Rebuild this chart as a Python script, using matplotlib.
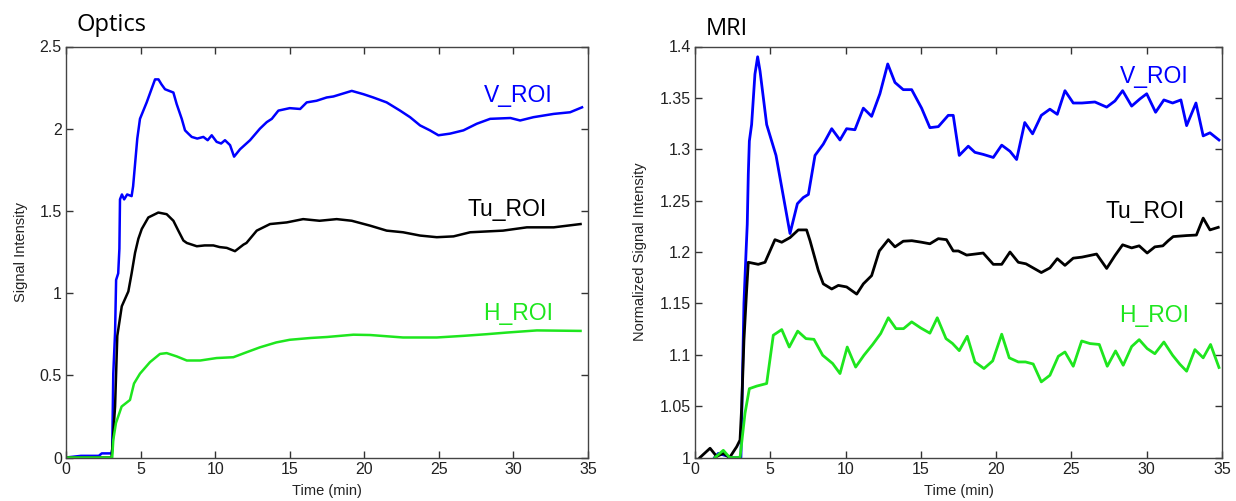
import numpy as np
import matplotlib
matplotlib.use('Agg')
import matplotlib.pyplot as plt

# ---- Optics (left panel) ----
opt_v_t = [0.0, 1.0, 2.2, 2.4, 3.05, 3.1, 3.17, 3.29, 3.36, 3.5, 3.58, 3.62, 3.75, 3.9, 4.1, 4.4,
           4.5, 4.78, 4.96, 5.41, 5.97, 6.2, 6.4, 6.64, 7.2, 7.42, 7.76, 7.98, 8.2, 8.43, 8.8,
           9.21, 9.5, 9.77, 10.1, 10.4, 10.66, 11.0, 11.27, 11.67, 12.34, 13.0, 13.46, 13.8,
           14.24, 15.0, 15.7, 16.14, 16.8, 17.48, 17.93, 19.16, 19.94, 20.6, 21.5, 22.4, 23.07,
           23.74, 24.4, 24.97, 25.75, 26.65, 27.54, 28.44, 29.8, 30.45, 31.34, 32.7, 33.8, 34.6]
opt_v = [0.0, 0.01, 0.01, 0.025, 0.025, 0.05, 0.51, 0.76, 1.08, 1.12, 1.27, 1.57, 1.60, 1.57,
         1.60, 1.59, 1.65, 1.94, 2.06, 2.16, 2.30, 2.30, 2.27, 2.24, 2.22, 2.15, 2.06, 1.99, 1.97,
         1.95, 1.94, 1.95, 1.93, 1.96, 1.92, 1.91, 1.93, 1.90, 1.83, 1.875, 1.93, 2.0, 2.04, 2.06,
         2.11, 2.125, 2.12, 2.16, 2.17, 2.19, 2.196, 2.23, 2.21, 2.19, 2.16, 2.11, 2.07, 2.02,
         1.99, 1.96, 1.97, 1.99, 2.03, 2.06, 2.065, 2.05, 2.07, 2.09, 2.10, 2.13]

opt_tu_t = [0.0, 3.05, 3.1, 3.29, 3.44, 3.74, 4.18, 4.4, 4.63, 4.85, 5.08, 5.52, 6.19, 6.75,
            7.2, 7.53, 7.87, 8.1, 8.77, 9.3, 9.88, 10.3, 10.78, 11.33, 11.9, 12.1, 12.79, 13.68,
            14.8, 15.9, 17.0, 18.15, 19.16, 20.4, 21.5, 22.6, 23.74, 24.86, 25.98, 27.1, 28.2,
            29.3, 30.9, 32.7, 34.5]
opt_tu = [0.0, 0.0, 0.05, 0.31, 0.74, 0.92, 1.01, 1.12, 1.245, 1.33, 1.39, 1.46, 1.49, 1.48,
          1.44, 1.38, 1.32, 1.305, 1.285, 1.29, 1.29, 1.28, 1.275, 1.255, 1.295, 1.305, 1.38,
          1.42, 1.43, 1.45, 1.44, 1.45, 1.44, 1.41, 1.38, 1.37, 1.35, 1.34, 1.345, 1.37, 1.375,
          1.38, 1.40, 1.40, 1.42]

opt_h_t = [0.0, 3.1, 3.17, 3.35, 3.73, 4.29, 4.56, 4.96, 5.63, 6.3, 6.75, 7.42, 8.1, 9.0, 10.1,
           11.22, 12.1, 13.0, 14.1, 15.0, 16.4, 17.5, 19.27, 20.4, 22.6, 24.86, 26.65, 28.2,
           29.56, 31.57, 34.5]
opt_h = [0.0, 0.0, 0.107, 0.21, 0.31, 0.35, 0.45, 0.51, 0.58, 0.63, 0.635, 0.615, 0.59, 0.59,
         0.605, 0.61, 0.64, 0.67, 0.70, 0.716, 0.727, 0.733, 0.747, 0.745, 0.73, 0.73, 0.74, 0.75,
         0.76, 0.773, 0.77]

# ---- MRI (right panel) ----
mri_v_t = [1.3, 1.55, 2.0, 2.5, 3.05, 3.25, 3.39, 3.47, 3.54, 3.61, 3.76, 3.98, 4.16, 4.32, 4.76,
           5.38, 6.31, 6.8, 7.19, 7.53, 7.97, 8.52, 9.08, 9.63, 10.07, 10.62, 11.18, 11.73, 12.28,
           12.8, 13.28, 13.83, 14.39, 15.05, 15.6, 16.16, 16.82, 17.15, 17.55, 18.15, 18.59,
           19.14, 19.81, 20.37, 20.92, 21.36, 21.9, 22.42, 23.0, 23.57, 24.06, 24.57, 25.12,
           25.7, 26.56, 27.34, 27.89, 28.4, 29.0, 29.55, 30.0, 30.59, 31.14, 31.72, 32.27, 32.65,
           33.27, 33.75, 34.2, 34.8]
mri_v = [1.0, 1.004, 1.002, 1.0, 1.0, 1.15, 1.2, 1.227, 1.276, 1.308, 1.324, 1.373, 1.39, 1.376,
         1.324, 1.294, 1.218, 1.247, 1.253, 1.256, 1.294, 1.305, 1.32, 1.309, 1.32, 1.319, 1.34,
         1.332, 1.354, 1.383, 1.365, 1.358, 1.358, 1.34, 1.321, 1.322, 1.333, 1.333, 1.294, 1.303,
         1.297, 1.295, 1.292, 1.304, 1.298, 1.29, 1.326, 1.315, 1.333, 1.339, 1.334, 1.357, 1.345,
         1.345, 1.346, 1.341, 1.347, 1.357, 1.342, 1.349, 1.354, 1.336, 1.348, 1.345, 1.348, 1.323,
         1.345, 1.313, 1.316, 1.309]

mri_tu_t = [0.33, 1.0, 1.44, 1.88, 2.3, 2.77, 2.99, 3.1, 3.25, 3.43, 3.54, 3.87, 4.2, 4.65, 4.98,
            5.31, 5.76, 6.31, 6.86, 7.41, 7.64, 8.19, 8.52, 9.08, 9.52, 10.07, 10.74, 11.18,
            11.73, 12.24, 12.84, 13.28, 13.83, 14.4, 15.05, 15.6, 16.16, 16.7, 17.15, 17.49,
            18.04, 18.6, 19.14, 19.81, 20.37, 20.92, 21.47, 21.98, 22.46, 23.0, 23.57, 24.06,
            24.57, 25.12, 25.7, 26.67, 27.34, 27.89, 28.4, 29.0, 29.5, 30.03, 30.54, 31.07,
            31.43, 31.76, 32.65, 33.3, 33.75, 34.2, 34.75]
mri_tu = [1.0, 1.009, 1.001, 1.004, 1.0, 1.0105, 1.017, 1.049, 1.114, 1.163, 1.19, 1.189, 1.188,
          1.19, 1.201, 1.212, 1.2095, 1.214, 1.2215, 1.2215, 1.211, 1.182, 1.169, 1.164, 1.1675,
          1.166, 1.159, 1.169, 1.177, 1.201, 1.212, 1.205, 1.2105, 1.211, 1.2095, 1.208, 1.213,
          1.212, 1.201, 1.201, 1.197, 1.198, 1.199, 1.188, 1.188, 1.2, 1.19, 1.1885, 1.1845, 1.18,
          1.1845, 1.1935, 1.187, 1.194, 1.195, 1.198, 1.184, 1.1965, 1.207, 1.204, 1.206, 1.199,
          1.205, 1.206, 1.211, 1.215, 1.216, 1.2165, 1.233, 1.2215, 1.224]

mri_h_t = [1.33, 1.88, 2.3, 2.99, 3.32, 3.61, 4.1, 4.76, 5.2, 5.76, 6.26, 6.82, 7.37, 7.9, 8.48,
           9.14, 9.63, 10.11, 10.67, 11.22, 11.8, 12.33, 12.84, 13.35, 13.85, 14.39, 15.0, 15.6,
           16.09, 16.67, 17.1, 17.55, 18.08, 18.59, 19.19, 19.77, 20.37, 20.87, 21.47, 21.95,
           22.46, 23.0, 23.57, 24.13, 24.57, 25.12, 25.68, 26.23, 26.85, 27.38, 27.93, 28.44,
           29.0, 29.5, 30.03, 30.54, 31.14, 31.72, 32.2, 32.65, 33.2, 33.75, 34.24, 34.8]
mri_h = [1.0, 1.007, 1.0, 1.0, 1.043, 1.067, 1.0695, 1.072, 1.119, 1.1245, 1.1075, 1.123, 1.1157,
         1.115, 1.0995, 1.0915, 1.0817, 1.1075, 1.088, 1.0995, 1.11, 1.1206, 1.136, 1.1254,
         1.1254, 1.132, 1.126, 1.121, 1.136, 1.1157, 1.111, 1.104, 1.118, 1.093, 1.0866, 1.094,
         1.12, 1.097, 1.093, 1.093, 1.091, 1.0736, 1.08, 1.0985, 1.1027, 1.0888, 1.1134, 1.1109,
         1.11, 1.0888, 1.1037, 1.0898, 1.108, 1.1147, 1.106, 1.101, 1.1124, 1.0995, 1.0908, 1.084,
         1.105, 1.097, 1.11, 1.0876]

roi_names = ['V_ROI', 'Tu_ROI', 'H_ROI']
roi_colors = ['#0000ff', '#000000', '#1ee61e']

# label anchors (data coords, baseline)
opt_label_xy = [(30.3, 2.16), (29.6, 1.468), (30.3, 0.834)]
mri_label_xy = [(30.5, 1.364), (29.9, 1.233), (30.5, 1.132)]

plt.rcParams['font.family'] = ['Liberation Sans', 'DejaVu Sans']

fig = plt.figure(figsize=(12.36, 5.01), dpi=100)
ax1 = fig.add_axes([66 / 1236, 43.5 / 501, 522 / 1236, 411 / 501])
ax2 = fig.add_axes([695 / 1236, 43.5 / 501, 527 / 1236, 411 / 501])


def style_axes(ax, ylim, yticks, ytl):
    ax.set_xlim(0, 35)
    ax.set_ylim(*ylim)
    ax.set_xticks(np.arange(0, 36, 5))
    ax.set_yticks(yticks)
    ax.set_yticklabels(ytl)
    ax.tick_params(direction='in', top=True, right=True, length=5, width=1,
                   labelsize=11.5, colors='#333333', labelcolor='#222222', pad=3)
    for s in ax.spines.values():
        s.set_color('#444444')
        s.set_linewidth(1)
    ax.set_xlabel('Time (min)', fontsize=10.5, color='#222222')
    ax.xaxis.set_label_coords(0.5, -0.064)


series1 = [(opt_v_t, opt_v), (opt_tu_t, opt_tu), (opt_h_t, opt_h)]
for (t, y), c in zip(series1, roi_colors):
    ax1.plot(t, y, color=c, lw=1.8)
for name, c, (x, y) in zip(roi_names, roi_colors, opt_label_xy):
    ax1.text(x, y, name, color=c, fontsize=16.5, ha='center', va='baseline')
style_axes(ax1, (0, 2.5), [0, 0.5, 1, 1.5, 2, 2.5], ['0', '0.5', '1', '1.5', '2', '2.5'])
ax1.set_ylabel('Signal Intensity', fontsize=10.5, color='#222222')
ax1.yaxis.set_label_coords(-0.072, 0.5)

series2 = [(mri_v_t, mri_v), (mri_tu_t, mri_tu), (mri_h_t, mri_h)]
for (t, y), c in zip(series2, roi_colors):
    ax2.plot(t, y, color=c, lw=2)
for name, c, (x, y) in zip(roi_names, roi_colors, mri_label_xy):
    ax2.text(x, y, name, color=c, fontsize=16.5, ha='center', va='baseline')
style_axes(ax2, (1, 1.4), [1, 1.05, 1.1, 1.15, 1.2, 1.25, 1.3, 1.35, 1.4],
           ['1', '1.05', '1.1', '1.15', '1.2', '1.25', '1.3', '1.35', '1.4'])
ax2.set_ylabel('Normalized Signal Intensity', fontsize=10.5, color='#222222')
ax2.yaxis.set_label_coords(-0.091, 0.5)

# panel titles
fig.text(76 / 1236, 1 - 30.7 / 501, 'Optics', fontsize=17, va='baseline', ha='left',
         family=['Open Sans', 'DejaVu Sans'])
fig.text(706 / 1236, 1 - 35 / 501, 'MRI', fontsize=17, va='baseline', ha='left',
         family=['Open Sans', 'DejaVu Sans'])

fig.savefig('out.png', dpi=100)
